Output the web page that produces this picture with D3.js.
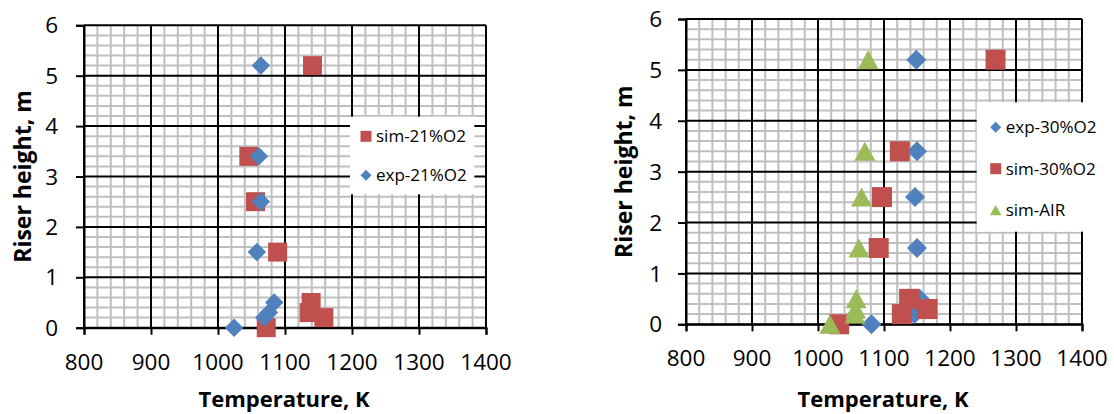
<!DOCTYPE html>
<html>
<head>
<meta charset="utf-8">
<script src="https://cdn.jsdelivr.net/npm/d3@7"></script>
<style>
  body { margin: 0; background: #fff; }
  text { font-family: "Open Sans", "DejaVu Sans", sans-serif; fill: #000; }
</style>
</head>
<body>
<script>
// riser heights shared by every series
const heights = [0, 0.2, 0.3, 0.5, 1.5, 2.5, 3.4, 5.2];

// left panel: 21% O2
const tempSim21 = [1072, 1158, 1136, 1139, 1089, 1056, 1046, 1141];
const tempExp21 = [1024, 1069, 1076, 1084, 1058, 1064, 1061, 1064];

// right panel: 30% O2 and air
const tempExp30 = [1081, 1146, 1148, 1154, 1150, 1147, 1150, 1149];
const tempSim30 = [1032, 1127, 1166, 1138, 1092, 1097, 1124, 1269];
const tempSimAir = [1018, 1056, 1057, 1058, 1062, 1066, 1071, 1076];

const xTicks = [800, 900, 1000, 1100, 1200, 1300, 1400];
const yTicks = [0, 1, 2, 3, 4, 5, 6];

const BLUE = "#4F81BD", RED = "#C0504D", GREEN = "#9BBB59";

const svg = d3.select("body").append("svg")
    .attr("width", 1114)
    .attr("height", 414);

// marker shapes, centred on 0,0
function markerPath(shape, s) {
    const h = s / 2;
    if (shape === "square") return `M${-h},${-h}H${h}V${h}H${-h}Z`;
    if (shape === "diamond") return `M0,${-h}L${h},0L0,${h}L${-h},0Z`;
    // triangle
    return `M0,${-h * 0.95}L${h * 1.05},${h * 0.95}L${-h * 1.05},${h * 0.95}Z`;
}

function drawPanel(p) {
    const g = svg.append("g");
    const x = d3.scaleLinear().domain([800, 1400]).range(p.xRange);
    const y = d3.scaleLinear().domain([0, 6]).range(p.yRange);

    // minor grid
    const xMinor = d3.range(800, 1400.1, 20).filter(v => v % 100 !== 0);
    const yMinor = d3.range(0, 6.01, 0.2).filter(v => Math.abs(v - Math.round(v)) > 0.01);
    g.selectAll(".vminor").data(xMinor).enter().append("line")
        .attr("x1", d => x(d)).attr("x2", d => x(d))
        .attr("y1", y(0)).attr("y2", y(6))
        .attr("stroke", "#bfbfbf").attr("stroke-width", 2);
    g.selectAll(".hminor").data(yMinor).enter().append("line")
        .attr("x1", x(800)).attr("x2", x(1400))
        .attr("y1", d => y(d)).attr("y2", d => y(d))
        .attr("stroke", "#bfbfbf").attr("stroke-width", 2);

    // major grid
    g.selectAll(".vmajor").data(xTicks).enter().append("line")
        .attr("x1", d => x(d)).attr("x2", d => x(d))
        .attr("y1", y(0)).attr("y2", y(6))
        .attr("stroke", "#000").attr("stroke-width", 2);
    g.selectAll(".hmajor").data(yTicks).enter().append("line")
        .attr("x1", x(800)).attr("x2", x(1400))
        .attr("y1", d => y(d)).attr("y2", d => y(d))
        .attr("stroke", "#000").attr("stroke-width", 2);

    // axes (ticks only, labels set by hand below)
    const xAxis = g.append("g").attr("transform", `translate(0,${y(0)})`)
        .call(d3.axisBottom(x).tickValues(xTicks).tickSize(7).tickFormat(""));
    const yAxis = g.append("g").attr("transform", `translate(${x(800)},0)`)
        .call(d3.axisLeft(y).tickValues(yTicks).tickSize(8).tickFormat(""));
    [xAxis, yAxis].forEach(a => {
        a.selectAll("path, line").attr("stroke", "#000").attr("stroke-width", 2);
    });

    g.selectAll(".xlab").data(xTicks).enter().append("text")
        .attr("x", d => x(d)).attr("y", y(0) + 42)
        .attr("text-anchor", "middle")
        .style("font-size", "22.5px")
        .text(d => d);
    g.selectAll(".ylab").data(yTicks).enter().append("text")
        .attr("x", x(800) - p.yLabGap).attr("y", d => y(d))
        .attr("dy", "0.36em")
        .attr("text-anchor", "end")
        .style("font-size", "22.5px")
        .text(d => d);

    // axis titles
    g.append("text")
        .attr("x", (p.xRange[0] + p.xRange[1]) / 2 - 1)
        .attr("y", 407)
        .attr("text-anchor", "middle")
        .style("font-size", "22px").style("font-weight", "bold")
        .text("Temperature, K");
    g.append("text")
        .attr("transform", `translate(${p.yTitleX},${(p.yRange[0] + p.yRange[1]) / 2}) rotate(-90)`)
        .attr("text-anchor", "middle")
        .attr("dy", "0.35em")
        .style("font-size", "23px").style("font-weight", "bold")
        .text("Riser height, m");

    // legend box
    const lg = g.append("g");
    lg.append("rect")
        .attr("x", p.legend.x).attr("y", p.legend.y)
        .attr("width", p.legend.w).attr("height", p.legend.h)
        .attr("fill", "#fff");

    // series
    p.series.forEach(s => {
        const pts = s.temps.map((t, i) => ({ t: t, h: heights[i] }));
        g.selectAll(null).data(pts).enter().append("path")
            .attr("d", markerPath(s.shape, s.shape === "square" ? p.sq : p.dia))
            .attr("transform", d => `translate(${x(d.t)},${y(d.h)})`)
            .attr("fill", s.color);
    });

    p.legendOrder.forEach((s, i) => {
        const cy = p.legend.first + i * p.legend.step;
        lg.append("path")
            .attr("d", markerPath(s.shape, 11))
            .attr("transform", `translate(${p.legend.mx},${cy})`)
            .attr("fill", s.color);
        lg.append("text")
            .attr("x", p.legend.mx + 10).attr("y", cy)
            .attr("dy", "0.36em")
            .style("font-size", "17px")
            .text(s.name);
    });
}

const sim21 = { name: "sim-21%O2", temps: tempSim21, shape: "square", color: RED };
const exp21 = { name: "exp-21%O2", temps: tempExp21, shape: "diamond", color: BLUE };
const exp30 = { name: "exp-30%O2", temps: tempExp30, shape: "diamond", color: BLUE };
const sim30 = { name: "sim-30%O2", temps: tempSim30, shape: "square", color: RED };
const simAir = { name: "sim-AIR", temps: tempSimAir, shape: "triangle", color: GREEN };

drawPanel({
    xRange: [84, 486], yRange: [327.7, 25.3],
    yLabGap: 26, yTitleX: 23,
    sq: 19, dia: 18.5,
    series: [sim21, exp21],
    legendOrder: [sim21, exp21],
    legend: { x: 350, y: 116.7, w: 124.3, h: 77.6, mx: 366, first: 136.3, step: 39 }
});

drawPanel({
    xRange: [686, 1082], yRange: [324.3, 19],
    yLabGap: 24, yTitleX: 624,
    sq: 20, dia: 20,
    series: [exp30, sim30, simAir],
    legendOrder: [exp30, sim30, simAir],
    legend: { x: 976.7, y: 102.3, w: 140, h: 129.4, mx: 995.7, first: 127.3, step: 41.4 }
});
</script>
</body>
</html>
